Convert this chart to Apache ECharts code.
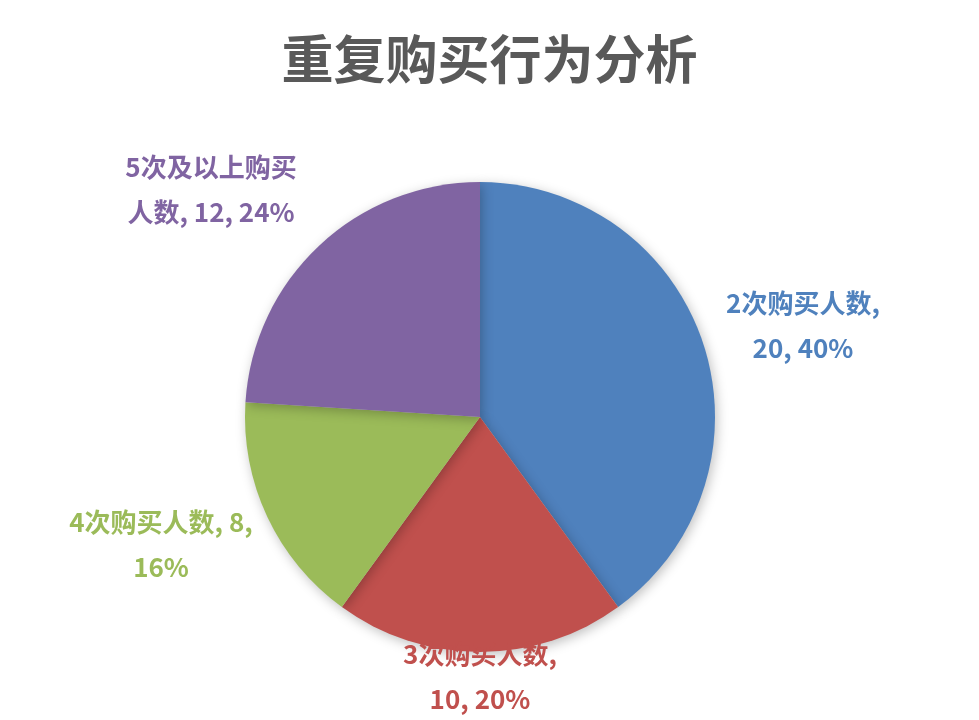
<!DOCTYPE html>
<html><head><meta charset="utf-8">
<script src="https://cdn.jsdelivr.net/npm/echarts@6/dist/echarts.min.js"></script>
<style>html,body{margin:0;padding:0;background:#fff}#c{width:979px;height:720px}</style>
</head><body><div id="c"></div>
<script>
const titleText = '重复购买行为分析';
const categories = ['2次购买人数', '3次购买人数', '4次购买人数', '5次及以上购买人数'];
const values = [20, 10, 8, 12];
const colors = ['#4F81BD', '#C0504D', '#9BBB59', '#8064A2'];
// label text split as in the reference
const labelBreaks = [
  n => n + ',\n{v}',
  n => n + ',\n{v}',
  n => n + ', {n},\n{p}%',
  n => '5次及以上购买\n人数, {n}, {p}%'
];
// label anchor spots (label centres)
const labelSpots = [[803, 326], [480, 677], [161, 545], [211, 190]];

const chart = echarts.init(document.getElementById('c'));
chart.setOption({
  backgroundColor: '#fff',
  title: {
    text: titleText, left: 'center', top: 28,
    textStyle: { fontFamily: 'Noto Sans CJK SC', fontWeight: 'bold', fontSize: 52, color: '#595959' }
  },
  series: [{
    type: 'pie',
    center: [480, 417],
    radius: 235,
    startAngle: 90,
    clockwise: true,
    data: categories.map((c, i) => ({ name: c, value: values[i], itemStyle: { color: colors[i] } })),
    itemStyle: { shadowBlur: 12, shadowColor: 'rgba(0,0,0,0.25)', shadowOffsetX: 2, shadowOffsetY: 3 },
    emphasis: { disabled: true },
    labelLine: { show: false },
    label: {
      show: true,
      position: 'outside',
      fontFamily: 'Noto Sans CJK SC',
      fontWeight: 'bold',
      fontSize: 26,
      lineHeight: 45,
      align: 'center',
      color: 'inherit',
      formatter: p => {
        const t = labelBreaks[p.dataIndex](p.name);
        return t.replace('{v}', p.value + ', ' + Math.round(p.percent) + '%')
                .replace('{n}', p.value).replace('{p}', Math.round(p.percent));
      }
    },
    labelLayout: p => ({
      x: labelSpots[p.dataIndex][0],
      y: labelSpots[p.dataIndex][1],
      align: 'center',
      verticalAlign: 'middle'
    })
  }]
});
</script></body></html>
